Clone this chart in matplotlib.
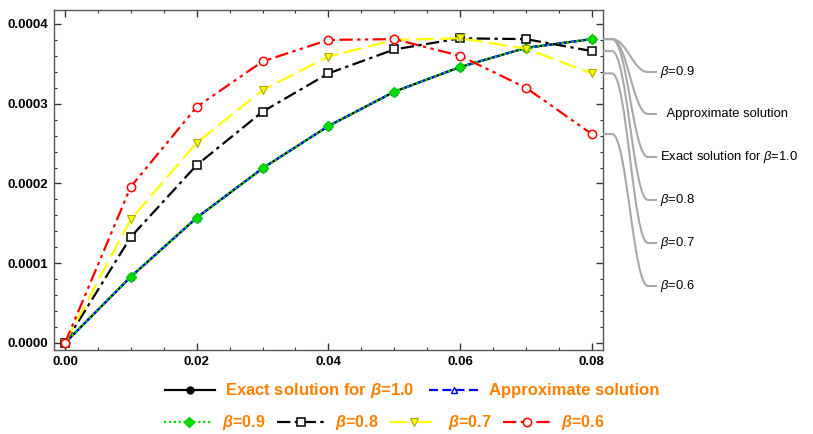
import numpy as np
import matplotlib
matplotlib.use("Agg")
import matplotlib.pyplot as plt
from matplotlib.path import Path
from matplotlib.patches import PathPatch

# Fonts: Arial-like text, italic beta through mathtext
plt.rcParams['font.family'] = ['Liberation Sans', 'DejaVu Sans']
plt.rcParams['mathtext.fontset'] = 'custom'
plt.rcParams['mathtext.rm'] = 'Liberation Sans'
plt.rcParams['mathtext.it'] = 'Liberation Sans:italic'
plt.rcParams['mathtext.bf'] = 'Liberation Sans:bold'
plt.rcParams['mathtext.bfit'] = 'Liberation Sans:bold:italic'

# Data (y values in units of 1e-4)
t = [0.00, 0.01, 0.02, 0.03, 0.04, 0.05, 0.06, 0.07, 0.08]
exact_10 = [0.0, 0.83, 1.57, 2.19, 2.72, 3.15, 3.46, 3.70, 3.81]
approx = [0.0, 0.83, 1.57, 2.19, 2.72, 3.15, 3.46, 3.70, 3.81]
beta_09 = [0.0, 0.83, 1.57, 2.19, 2.72, 3.15, 3.46, 3.70, 3.81]
beta_08 = [0.0, 1.33, 2.23, 2.90, 3.38, 3.68, 3.82, 3.81, 3.66]
beta_07 = [0.0, 1.55, 2.51, 3.17, 3.59, 3.80, 3.82, 3.69, 3.38]
beta_06 = [0.0, 1.96, 2.96, 3.53, 3.80, 3.81, 3.60, 3.20, 2.62]

scale = 1e-4
orange = '#ff8000'

fig = plt.figure(figsize=(8.13, 4.34), dpi=100)
ax = fig.add_axes([54 / 813, 84 / 434, 549 / 813, 340 / 434])

lw = 1.6
h_exact, = ax.plot(t, np.array(exact_10) * scale, color='black', lw=lw, ls='-',
                   marker='o', ms=5, mfc='black', mec='black')
h_approx, = ax.plot(t, np.array(approx) * scale, color='blue', lw=lw, ls=(0, (4, 2)),
                    marker='^', ms=5, mfc='white', mec='blue')
h_09, = ax.plot(t, np.array(beta_09) * scale, color='#00dd00', lw=lw, ls=(0, (1, 1.2)),
                marker='D', ms=5, mfc='#00dd00', mec='#00cc00')
h_08, = ax.plot(t, np.array(beta_08) * scale, color='black', lw=lw, ls=(0, (6, 2, 1.5, 2)),
                marker='s', ms=5.5, mfc='white', mec='black', mew=1.1)
h_07, = ax.plot(t, np.array(beta_07) * scale, color='#ffff00', lw=lw, ls=(0, (8, 3)),
                marker='v', ms=6, mfc='#ffff00', mec='#a8a800', mew=0.8)
h_06, = ax.plot(t, np.array(beta_06) * scale, color='#ff0000', lw=lw, ls=(0, (6, 2, 1.5, 2, 1.5, 2)),
                marker='o', ms=6, mfc='white', mec='#ff0000', mew=1.1)

ax.set_xlim(-0.00167, 0.0817)
ax.set_ylim(-0.0000088, 0.0004175)
ax.set_xticks([0.00, 0.02, 0.04, 0.06, 0.08])
ax.set_xticklabels(['0.00', '0.02', '0.04', '0.06', '0.08'])
ax.set_xticks(np.arange(0, 0.0801, 0.005), minor=True)
ax.set_yticks([0.0, 0.0001, 0.0002, 0.0003, 0.0004])
ax.set_yticklabels(['0.0000', '0.0001', '0.0002', '0.0003', '0.0004'])
ax.set_yticks(np.arange(0, 0.00041, 0.00002), minor=True)
ax.tick_params(which='both', direction='in', top=True, right=True, color='#333333')
ax.tick_params(which='major', length=5, width=1, labelsize=9.5, pad=4)
ax.tick_params(which='minor', length=2.5, width=0.8)
for lab in ax.get_xticklabels() + ax.get_yticklabels():
    lab.set_fontweight('bold')
for s in ax.spines.values():
    s.set_color('#555555')
    s.set_linewidth(1.0)

# Leader lines and labels on the right
ends = [beta_09[-1], approx[-1], exact_10[-1], beta_08[-1], beta_07[-1], beta_06[-1]]
labels = [r'$\beta$=0.9', '  Approximate solution', r'Exact solution for $\beta$=1.0',
          r'$\beta$=0.8', r'$\beta$=0.7', r'$\beta$=0.6']
label_y = [72, 114, 157, 200, 243, 286]
W, H = 813, 434
x_start = ax.transAxes.transform((1, 0))[0]
x_end = 657
for yv, lab, ly in zip(ends, labels, label_y):
    y0 = ax.transData.transform((0.08, yv * scale))[1]
    y1 = H - ly
    verts = [(x_start, y0), (x_start + 9, y0),
             (x_start + 24, y0), (x_end - 24, y1), (x_end - 9, y1),
             (x_end, y1)]
    codes = [Path.MOVETO, Path.LINETO, Path.CURVE4, Path.CURVE4, Path.CURVE4, Path.LINETO]
    verts = [(vx / W, vy / H) for vx, vy in verts]
    patch = PathPatch(Path(verts, codes), transform=fig.transFigure, fill=False,
                      edgecolor='#a8a8a8', lw=1.5, clip_on=False)
    fig.add_artist(patch)
    fig.text((x_end + 3) / W, y1 / H, lab, fontsize=9.4, ha='left', va='center')

# Legends below the plot
leg_kw = dict(frameon=False, handlelength=3.0, handletextpad=0.6, numpoints=1,
              labelcolor=orange, borderaxespad=0)
leg1 = fig.legend([h_exact, h_approx],
                  [r'Exact solution for $\mathbfit{\beta}$=1.0', 'Approximate solution'],
                  loc='center left', bbox_to_anchor=(158 / W, 1 - 391 / H), ncol=2,
                  columnspacing=0.9, prop={'weight': 'bold', 'size': 12}, **leg_kw)
leg2 = fig.legend([h_09, h_08, h_07, h_06],
                  [r'$\mathbfit{\beta}$=0.9', r'$\mathbfit{\beta}$=0.8',
                   r'$\mathbfit{\beta}$=0.7', r'$\mathbfit{\beta}$=0.6'],
                  loc='center left', bbox_to_anchor=(158 / W, 1 - 423 / H), ncol=4,
                  columnspacing=0.7, prop={'weight': 'bold', 'size': 11.6}, **leg_kw)

fig.savefig('out.png', dpi=100)
